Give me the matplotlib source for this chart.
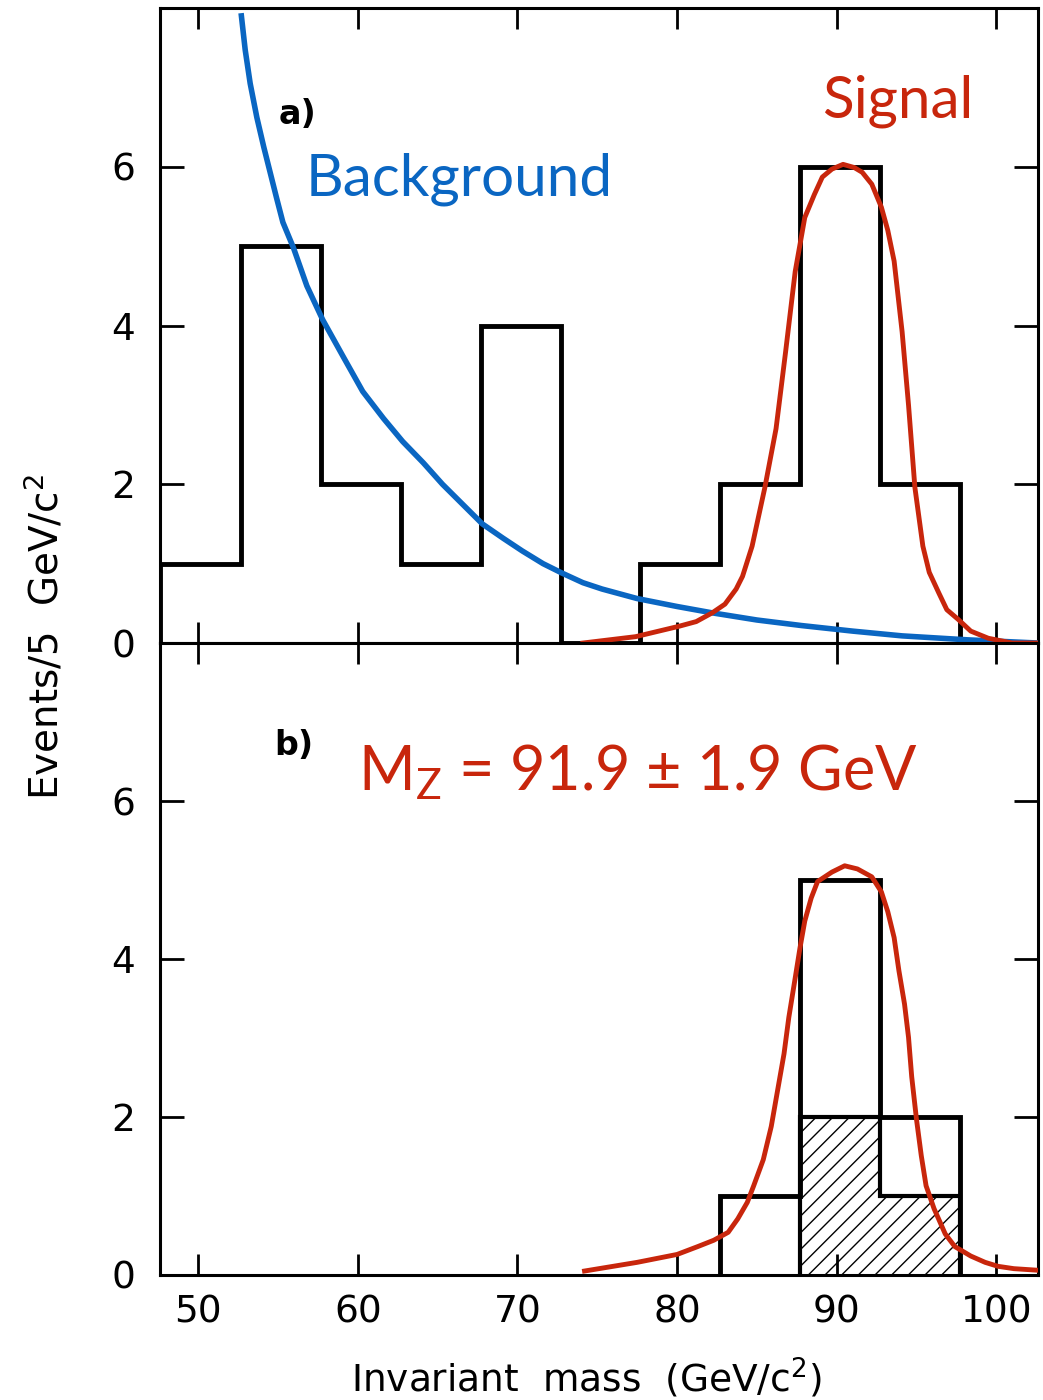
import matplotlib
matplotlib.use('Agg')
import matplotlib.pyplot as plt

# histogram a): events per 5 GeV bin
edges_a = [47.6, 52.7, 57.7, 62.7, 67.7, 72.7, 77.7, 82.7, 87.7, 92.7, 97.7]
counts_a = [1, 5, 2, 1, 4, 0, 1, 2, 6, 2]

# histogram b): all events and the hatched subset
edges_b = [82.7, 87.7, 92.7, 97.7]
counts_b = [1, 5, 2]
edges_hatch = [87.7, 92.7, 97.7]
counts_hatch = [2, 1]

# background curve
bg_mass = [52.7, 52.94, 53.25, 53.67, 54.1, 54.5, 54.9, 55.3, 55.96, 56.8, 57.8,
           59.1, 60.3, 61.6, 62.8, 64.1, 65.3, 66.6, 67.8, 69.1, 70.3, 71.6, 72.8,
           74.1, 75.3, 77.5, 80.0, 82.2, 85.0, 87.8, 91.0, 94.1, 98.2, 102.6]
bg_val = [7.9, 7.47, 7.05, 6.62, 6.25, 5.93, 5.61, 5.30, 4.98, 4.50, 4.07,
          3.60, 3.17, 2.83, 2.54, 2.27, 2.0, 1.74, 1.5, 1.32, 1.16, 1.0, 0.88,
          0.76, 0.68, 0.56, 0.46, 0.38, 0.29, 0.22, 0.15, 0.09, 0.04, 0.0]

# signal curve, panel a)
sig_a_mass = [74.1, 77.4, 80.1, 81.2, 82.2, 83.0, 83.7, 84.1, 84.7, 85.5, 86.2,
              86.8, 87.4, 88.0, 88.6, 89.1, 89.7, 90.4, 91.1, 91.6, 92.2, 92.8,
              93.2, 93.6, 94.1, 94.5, 94.9, 95.4, 95.8, 96.4, 96.9, 97.6, 98.4,
              99.5, 101.0, 102.6]
sig_a_val = [0.0, 0.08, 0.21, 0.27, 0.38, 0.49, 0.68, 0.84, 1.22, 1.96, 2.70,
             3.67, 4.68, 5.36, 5.65, 5.87, 5.97, 6.03, 5.99, 5.93, 5.78, 5.49,
             5.2, 4.81, 3.92, 3.0, 1.96, 1.22, 0.89, 0.63, 0.42, 0.30, 0.15,
             0.06, 0.0, 0.0]

# signal curve, panel b)
sig_b_mass = [74.2, 75.4, 77.5, 80.0, 81.3, 82.3, 83.2, 83.8, 84.4, 84.8, 85.4,
              85.9, 86.3, 86.7, 87.0, 87.4, 87.7, 88.0, 88.4, 88.8, 89.7, 90.5,
              91.3, 92.2, 92.8, 93.2, 93.6, 93.9, 94.25, 94.5, 94.7, 95.0, 95.3,
              95.6, 96.1, 96.8, 97.4, 98.4, 99.3, 100.1, 101.1, 102.6]
sig_b_val = [0.05, 0.09, 0.16, 0.26, 0.36, 0.44, 0.54, 0.71, 0.92, 1.13, 1.46,
             1.88, 2.34, 2.80, 3.26, 3.76, 4.14, 4.48, 4.77, 4.98, 5.10, 5.18,
             5.14, 5.04, 4.85, 4.60, 4.27, 3.85, 3.43, 3.01, 2.51, 1.97, 1.51,
             1.13, 0.84, 0.52, 0.36, 0.24, 0.16, 0.11, 0.08, 0.06]

xticks = [50, 60, 70, 80, 90, 100]
yticks = [0, 2, 4, 6]

blue = '#0a66c2'
red = '#c8260c'

plt.rcParams['font.family'] = ['DejaVu Sans']
plt.rcParams['mathtext.fontset'] = 'custom'
plt.rcParams['mathtext.rm'] = 'Lato'
plt.rcParams['mathtext.it'] = 'Lato'
plt.rcParams['hatch.linewidth'] = 1.0

fig = plt.figure(figsize=(10.43, 14), dpi=100)
ax_a = fig.add_axes([0.1534, 0.5407, 0.8416, 0.4536])
ax_b = fig.add_axes([0.1534, 0.0893, 0.8416, 0.4514])

for ax in (ax_a, ax_b):
    ax.set_xlim(47.6, 102.6)
    ax.set_ylim(0, 8)
    ax.set_xticks(xticks)
    ax.set_yticks(yticks)
    for s in ax.spines.values():
        s.set_linewidth(2.2)
    ax.tick_params(direction='in', length=15, width=2, top=True, right=True,
                   labelsize=27, pad=14)
    ax.tick_params(axis='y', length=17, pad=18)

ax_a.tick_params(labelbottom=False)

# panel a)
ax_a.stairs(counts_a, edges_a, baseline=0, color='black', lw=3.5, zorder=2)
ax_a.plot(bg_mass, bg_val, color=blue, lw=4, zorder=3, solid_joinstyle='round')
ax_a.plot(sig_a_mass, sig_a_val, color=red, lw=3.5, zorder=4, solid_joinstyle='round')
ax_a.text(56.2, 6.66, 'a)', fontsize=24, weight='bold', ha='center', va='center')
ax_a.text(56.7, 5.64, 'Background', color=blue, fontsize=42, family='Lato',
          ha='left', va='baseline')
ax_a.text(89.1, 6.62, 'Signal', color=red, fontsize=42, family='Lato',
          ha='left', va='baseline')

# panel b)
ax_b.stairs(counts_hatch, edges_hatch, baseline=0, fill=True, facecolor='none',
            edgecolor='black', hatch='//', lw=3, zorder=2)
ax_b.stairs(counts_b, edges_b, baseline=0, color='black', lw=3.5, zorder=2)
ax_b.plot(sig_b_mass, sig_b_val, color=red, lw=3.5, zorder=4, solid_joinstyle='round')
ax_b.text(56.0, 6.7, 'b)', fontsize=24, weight='bold', ha='center', va='center')
ax_b.text(60.0, 6.14, r'M$_\mathrm{Z}$ = 91.9 ± 1.9 GeV', color=red, fontsize=44,
          family='Lato', ha='left', va='baseline')

fig.text(45 / 1043, 0.545, r'Events/5  GeV/c$^2$', rotation=90, fontsize=28,
         ha='center', va='center', math_fontfamily='dejavusans')
fig.text(0.562, 1 - 1378 / 1400, r'Invariant  mass  (GeV/c$^2$)', fontsize=27,
         ha='center', va='center', math_fontfamily='dejavusans')

fig.savefig('out.png', dpi=100)
